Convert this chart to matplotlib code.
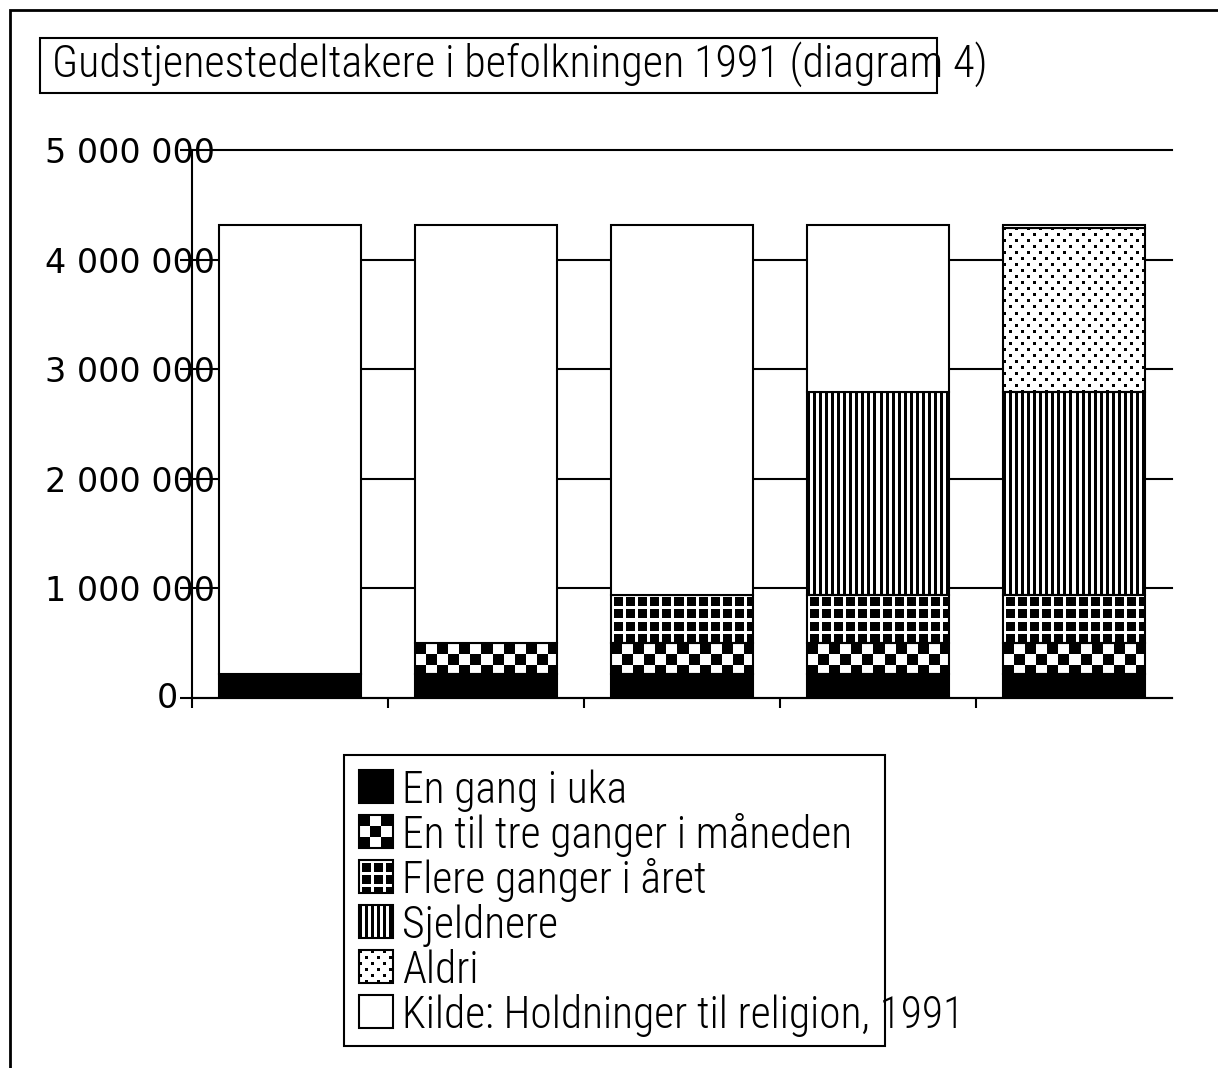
import numpy as np
import matplotlib
matplotlib.use("Agg")
import matplotlib.pyplot as plt
from matplotlib.patches import Rectangle
from matplotlib import font_manager
import matplotlib.transforms as mtransforms

# data (persons)
positions = [0, 1, 2, 3, 4]
en_gang_i_uka = [220000, 220000, 220000, 220000, 220000]
en_til_tre = [0, 280000, 280000, 280000, 280000]
flere_ganger = [0, 0, 440000, 440000, 440000]
sjeldnere = [0, 0, 0, 1850000, 1850000]
aldri = [0, 0, 0, 0, 1500000]
kilde_rest = [4100000, 3820000, 3380000, 1530000, 30000]

labels = ["En gang i uka", "En til tre ganger i måneden", "Flere ganger i året",
          "Sjeldnere", "Aldri", "Kilde: Holdninger til religion, 1991"]
title = "Gudstjenestedeltakere i befolkningen 1991 (diagram 4)"
yticks = [0, 1000000, 2000000, 3000000, 4000000, 5000000]

names = {f.name for f in font_manager.fontManager.ttflist}
TEXT_FONT = "DejaVu Sans"
for cand in ["Liberation Sans Narrow", "Roboto Condensed", "Liberation Sans"]:
    if cand in names:
        TEXT_FONT = cand
        break

W, H = 1218, 1068


def texture(kind, w, h):
    #pixel patterns like the old mac fills
    yy, xx = np.mgrid[0:h, 0:w]
    if kind == "checker":
        black = ((xx // 11) + (yy // 11)) % 2 == 0
    elif kind == "grid":
        black = (xx % 12 >= 3) & (yy % 12 >= 3)
    elif kind == "stripes":
        black = xx % 6 < 3
    elif kind == "dots":
        black = (((yy % 12) < 3) & ((xx % 12) < 3)) | ((((yy + 6) % 12) < 3) & (((xx + 6) % 12) < 3))
    else:
        black = np.zeros((h, w), bool)
    return np.where(black, 0.0, 1.0)


def fit_width(txt, target_px):
    #scale font so the text is as wide as in the original
    r = fig.canvas.get_renderer()
    bb = txt.get_window_extent(renderer=r)
    size = txt.get_fontsize() * target_px / bb.width
    txt.set_fontsize(size)
    return size


fig = plt.figure(figsize=(W / 100, H / 100), dpi=100)

# overlay for frame, title box and legend (pixel coords)
ov = fig.add_axes([0, 0, 1, 1])
ov.set_xlim(0, W)
ov.set_ylim(H, 0)
ov.axis("off")

ax = fig.add_axes([192 / W, 1 - 698 / H, 980 / W, 548 / H])
ax.set_facecolor("none")
ax.set_xlim(-0.5, 4.5)
ax.set_ylim(0, 5000000)

series = [
    (en_gang_i_uka, "solid"),
    (en_til_tre, "checker"),
    (flere_ganger, "grid"),
    (sjeldnere, "stripes"),
    (aldri, "dots"),
    (kilde_rest, "white"),
]

width = 0.72
bottom = np.zeros(len(positions))
for vals, kind in series:
    vals = np.array(vals, dtype=float)
    face = {"solid": "black", "white": "white"}.get(kind, "none")
    bars = ax.bar(positions, vals, width, bottom=bottom, facecolor=face,
                  edgecolor="black", linewidth=1.5, zorder=3)
    for b, v in zip(bars, vals):
        if v <= 0:
            b.set_visible(False)
            continue
        if kind in ("checker", "grid", "stripes", "dots"):
            x0, y0 = b.get_x(), b.get_y()
            x1, y1 = x0 + b.get_width(), y0 + b.get_height()
            p0 = ax.transData.transform((x0, y0))
            p1 = ax.transData.transform((x1, y1))
            w = max(1, int(round(abs(p1[0] - p0[0]))))
            h = max(1, int(round(abs(p1[1] - p0[1]))))
            ax.imshow(texture(kind, w, h), cmap="gray", vmin=0, vmax=1,
                      extent=(x0, x1, y0, y1), aspect="auto",
                      interpolation="nearest", zorder=2)
    bottom += vals

ax.set_xlim(-0.5, 4.5)
ax.set_ylim(0, 5000000)

ax.set_yticks(yticks)
# the "0" sits further left in the original, drawn separately below
ax.set_yticklabels([f"{v:,}".replace(",", " ") if v else "" for v in yticks])
ax.set_xticks([-0.5, 0.5, 1.5, 2.5, 3.5])
ax.set_xticklabels([])
ax.yaxis.grid(True, color="black", linewidth=1.5)
for gl in ax.get_ygridlines():
    gl.set_clip_on(False)
ax.set_axisbelow(True)
ax.tick_params(axis="y", direction="out", length=8.6, width=1.5, pad=-25.2,
               labelsize=24, colors="black")
ax.tick_params(axis="x", direction="out", length=7.2, width=1.5)
for s in ("top", "right"):
    ax.spines[s].set_visible(False)
for s in ("left", "bottom"):
    ax.spines[s].set_linewidth(1.5)

zero_tr = mtransforms.blended_transform_factory(ax.transAxes, ax.transData)
ax.text(-14 / 980, yticks[0], "0", transform=zero_tr, ha="right", va="center",
        fontsize=24, clip_on=False)

# outer frame
ov.plot([10, 10, W], [H, 10, 10], color="black", linewidth=2,
        solid_joinstyle="miter")

# title box (text runs past the box like the original)
ov.add_patch(Rectangle((40, 38), 897, 55, fill=False, edgecolor="black", linewidth=1.5))
t = ov.text(52, 77, title, fontsize=30, family=TEXT_FONT, fontweight="light",
            va="baseline", ha="left")
fit_width(t, 935)

# legend
ov.add_patch(Rectangle((344, 755), 541, 291, fill=False, edgecolor="black", linewidth=1.5))
kinds = [k for _, k in series]
texts = []
for i, (lab, kind) in enumerate(zip(labels, kinds)):
    base = 803 + 45 * i
    if kind in ("checker", "grid", "stripes", "dots"):
        ov.imshow(texture(kind, 34, 33), cmap="gray", vmin=0, vmax=1,
                  extent=(359, 393, base, base - 33), aspect="auto",
                  interpolation="nearest", zorder=2)
        face = "none"
    else:
        face = "black" if kind == "solid" else "white"
    ov.add_patch(Rectangle((359, base - 33), 34, 33, facecolor=face,
                           edgecolor="black", linewidth=1.5, zorder=3))
    texts.append(ov.text(402, base, lab, fontsize=30, family=TEXT_FONT,
                         fontweight="light", va="baseline", ha="left"))
size = fit_width(texts[-1], 563)
for tx in texts:
    tx.set_fontsize(size)

ov.set_xlim(0, W)
ov.set_ylim(H, 0)

fig.savefig("out.png", dpi=100)
